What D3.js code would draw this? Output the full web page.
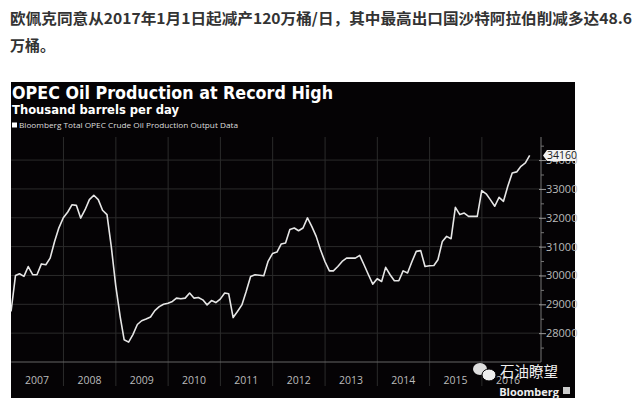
<!DOCTYPE html>
<html><head><meta charset="utf-8">
<script src="https://cdn.jsdelivr.net/npm/d3@7"></script>
<style>
html,body{margin:0;padding:0;background:#fff;}
svg{display:block;}
</style></head>
<body>
<script>
// ---- data ----
const startYear = 2007;
// monthly values (month-end), Dec 2006 .. Nov 2016, thousand barrels per day
const production = [
28750,30000,30060,29970,30310,30025,30025,30400,30370,30600,31180,31650,
32000,32200,32450,32430,31990,32280,32630,32780,32630,32260,32110,31000,
29650,28575,27770,27690,27950,28300,28430,28490,28560,28780,28920,29000,
29040,29100,29215,29190,29215,29390,29215,29235,29155,28980,29130,29060,
29180,29390,29365,28540,28750,28980,29445,29965,30025,30010,29990,30490,
30760,30810,31090,31125,31590,31645,31550,31645,31995,31700,31355,30890,
30485,30160,30160,30310,30485,30600,30600,30600,30695,30370,30025,29700,
29885,29790,30280,30025,29815,29815,30160,30085,30485,30835,30860,30310,
30335,30345,30545,31180,31355,31275,32360,32110,32165,32050,32050,32050,
32940,32830,32630,32400,32710,32570,33090,33555,33590,33785,33900,34160];
const years = [2007,2008,2009,2010,2011,2012,2013,2014,2015,2016];
const yTicks = [28000,29000,30000,31000,32000,33000,34000];
const lastLabel = "34160";
const headline1 = "欧佩克同意从2017年1月1日起减产120万桶/日，其中最高出口国沙特阿拉伯削减多达48.6";
const headline2 = "万桶。";
const title = "OPEC Oil Production at Record High";
const subtitle = "Thousand barrels per day";
const legendText = "Bloomberg Total OPEC Crude Oil Production Output Data";

const data = production.map((v,i)=>({date:new Date(startYear, i, 0), value:v}));

// ---- drawing ----
const W=640,H=401;
const svg=d3.select("body").append("svg").attr("width",W).attr("height",H);
svg.append("rect").attr("width",W).attr("height",H).attr("fill","#fff");

const cjk="'Noto Sans CJK SC','Noto Sans',sans-serif";
svg.append("text").attr("x",10).attr("y",24).attr("font-family",cjk).attr("font-weight","bold")
  .attr("font-size",15).attr("fill","#333").attr("textLength",622).attr("lengthAdjust","spacingAndGlyphs").text(headline1);
svg.append("text").attr("x",10).attr("y",51).attr("font-family",cjk).attr("font-weight","bold")
  .attr("font-size",15).attr("fill","#333").text(headline2);

// panel
const panel={x0:11,x1:575,y0:82,y1:398};
svg.append("rect").attr("x",panel.x0).attr("y",panel.y0).attr("width",panel.x1-panel.x0).attr("height",panel.y1-panel.y0).attr("fill","#050305");

const plot={left:11.2,right:541,top:137,bottom:362};
const x=d3.scaleTime().domain([new Date(2007,0,1),new Date(2017,1,17)]).range([plot.left,plot.right]);
const y=d3.scaleLinear().domain([27000,34800]).range([plot.bottom,plot.top]);

const font="'DejaVu Sans',sans-serif";
svg.append("text").attr("x",12).attr("y",99).attr("font-family",font).attr("font-weight","bold")
  .attr("font-size",18).attr("fill","#fff").attr("textLength",321).attr("lengthAdjust","spacingAndGlyphs").text(title);
svg.append("text").attr("x",12).attr("y",114).attr("font-family",font).attr("font-weight","bold")
  .attr("font-size",12.5).attr("fill","#fff").attr("textLength",167).attr("lengthAdjust","spacingAndGlyphs").text(subtitle);
svg.append("rect").attr("x",12).attr("y",122.5).attr("width",5).attr("height",5).attr("fill","#fff");
svg.append("text").attr("x",19).attr("y",127.5).attr("font-family","'Open Sans',sans-serif")
  .attr("font-size",7.5).attr("fill","#ddd").attr("textLength",219).attr("lengthAdjust","spacingAndGlyphs").text(legendText);

// grid
const g=svg.append("g");
g.selectAll("line.h").data(yTicks).join("line")
  .attr("x1",plot.left).attr("x2",plot.right).attr("y1",d=>y(d)).attr("y2",d=>y(d))
  .attr("stroke","#2b2b2b").attr("stroke-width",1);
g.selectAll("line.v").data(years.slice(1)).join("line")
  .attr("x1",d=>x(new Date(d,0,1))).attr("x2",d=>x(new Date(d,0,1)))
  .attr("y1",plot.top).attr("y2",386)
  .attr("stroke","#2b2b2b").attr("stroke-width",1);
// x axis line
g.append("line").attr("x1",plot.left).attr("x2",plot.right).attr("y1",plot.bottom).attr("y2",plot.bottom)
  .attr("stroke","#666").attr("stroke-width",1);

// year labels
g.selectAll("text.yr").data(years).join("text")
  .attr("x",d=>x(new Date(d,6,1))).attr("y",384).attr("text-anchor","middle")
  .attr("font-family","'Open Sans',sans-serif").attr("font-size",10.5).attr("fill","#bbb").text(d=>d);

// right axis
const ax=d3.axisRight(y).tickValues(yTicks).tickSize(5).tickFormat(d3.format("d"));
const axG=svg.append("g").attr("transform",`translate(${plot.right},0)`).call(ax);
axG.select(".domain").attr("stroke","#777").attr("d",`M0,${plot.top}V${plot.bottom}`);
axG.selectAll(".tick line").attr("stroke","#999").attr("x1",-2);
axG.selectAll(".tick text").attr("fill","#bbb").attr("font-family","'Open Sans',sans-serif").attr("font-size",11).attr("x",5);
const minor=d3.axisRight(y).tickValues(d3.range(27500,35000,1000)).tickSize(3).tickFormat("");
const mG=svg.append("g").attr("transform",`translate(${plot.right},0)`).call(minor);
mG.select(".domain").remove();
mG.selectAll(".tick line").attr("stroke","#777");

// line
const line=d3.line().x(d=>x(d.date)).y(d=>y(d.value));
svg.append("path").datum(data).attr("d",line).attr("fill","none")
  .attr("stroke","#e6e6e6").attr("stroke-width",1.6).attr("stroke-linejoin","round");

// last value label
const last=data[data.length-1];
const ly=y(last.value);
const lab=svg.append("g").attr("transform",`translate(${plot.right+2},${ly})`);
lab.append("path").attr("d","M0,0 L4,-5.5 H33 V5.5 H4 Z").attr("fill","#f2f2f2");
lab.append("text").attr("x",19).attr("y",4).attr("text-anchor","middle").attr("font-family","'Open Sans',sans-serif")
  .attr("font-size",10.5).attr("fill","#222").text(lastLabel);

// watermark & branding
const wm=svg.append("g");
wm.append("ellipse").attr("cx",480).attr("cy",369).attr("rx",7).attr("ry",6).attr("fill","#ddd");
wm.append("ellipse").attr("cx",489).attr("cy",375).attr("rx",7).attr("ry",6).attr("fill","#eee").attr("stroke","#050305").attr("stroke-width",1);
wm.append("text").attr("x",500).attr("y",377).attr("font-family",cjk).attr("font-size",14.5).attr("fill","#eee").text("石油瞭望");
svg.append("text").attr("x",559).attr("y",396).attr("text-anchor","end").attr("font-family","'Open Sans',sans-serif")
  .attr("font-weight","bold").attr("font-size",11).attr("fill","#eee").text("Bloomberg");
svg.append("rect").attr("x",563).attr("y",387).attr("width",7).attr("height",7).attr("fill","#ccc");
</script>
</body></html>
